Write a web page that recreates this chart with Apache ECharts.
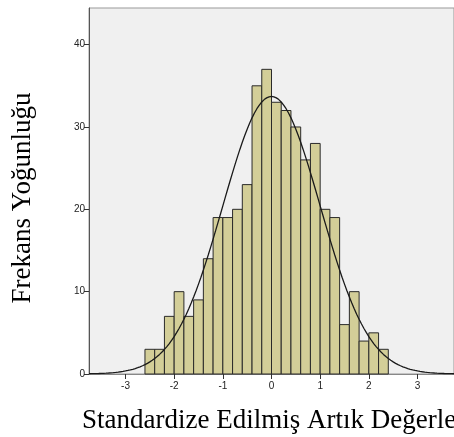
<!DOCTYPE html>
<html>
<head>
<meta charset="utf-8">
<script src="https://cdn.jsdelivr.net/npm/echarts@6/dist/echarts.min.js"></script>
<style>html,body{margin:0;padding:0;background:#fff;}#c{width:454px;height:437px;}</style>
</head>
<body>
<div id="c"></div>
<script>
// Histogram bins (left edges) and counts
const binLeft = [-2.6,-2.4,-2.2,-2.0,-1.8,-1.6,-1.4,-1.2,-1.0,-0.8,-0.6,-0.4,-0.2,0.0,0.2,0.4,0.6,0.8,1.0,1.2,1.4,1.6,1.8,2.0,2.2];
const counts  = [3,3,7,10,7,9,14,19,19,20,23,35,37,33,32,30,26,28,20,19,6,10,4,5,3];
const binWidth = 0.2;
// Fitted normal curve parameters
const fitMean = 0.0;
const fitSd = 0.999;
const xTicks = [-3,-2,-1,0,1,2,3];
const yTicks = [0,10,20,30,40];
const xTitle = 'Standardize Edilmiş Artık Değerleri';
const yTitle = 'Frekans Yoğunluğu';

const N = counts.reduce((a,b)=>a+b,0);
const xMin = -3.75, xMax = 3.75;
const curve = [];
for (let i = 0; i <= 150; i++) {
  const x = xMin + i * (xMax - xMin) / 150;
  const z = (x - fitMean) / fitSd;
  curve.push([x, N * binWidth / (fitSd * Math.sqrt(2*Math.PI)) * Math.exp(-0.5*z*z)]);
}
const barData = binLeft.map((l,i)=>[l, l+binWidth, counts[i]]);

const chart = echarts.init(document.getElementById('c'), null, {renderer:'canvas'});
chart.setOption({
  animation:false,
  grid:{left:89, top:8, right:-4, bottom:63, show:true, backgroundColor:'#f0f0f0', borderColor:'#999', borderWidth:1},
  xAxis:{type:'value', min:xMin, max:xMax,
    axisLine:{show:true, onZero:false, lineStyle:{color:'#888', width:1}},
    axisTick:{show:true, length:5, customValues:xTicks, lineStyle:{color:'#333'}},
    axisLabel:{customValues:xTicks, color:'#222', fontFamily:'Liberation Sans', fontSize:10, margin:7},
    splitLine:{show:false}},
  yAxis:{type:'value', min:0, max:44.45,
    axisLine:{show:true, onZero:false, lineStyle:{color:'#555', width:1}},
    axisTick:{show:true, length:5, customValues:yTicks, lineStyle:{color:'#333'}},
    axisLabel:{customValues:yTicks, color:'#222', fontFamily:'Liberation Sans', fontSize:10, margin:4},
    splitLine:{show:false}},
  graphic:[
    {type:'text', x:23, y:198, rotation:Math.PI/2,
      style:{text:yTitle, font:'27px "Liberation Serif"', fill:'#000', textAlign:'center', textVerticalAlign:'middle'}},
    {type:'text', x:82, y:421,
      style:{text:xTitle, font:'27px "Liberation Serif"', fill:'#000', textAlign:'left', textVerticalAlign:'middle'}}
  ],
  series:[
    {type:'custom', data:barData, encode:{x:[0,1], y:2},
      renderItem:function(params, api){
        const p0 = api.coord([api.value(0), 0]);
        const p1 = api.coord([api.value(1), api.value(2)]);
        return {type:'rect', shape:{x:p0[0], y:p1[1], width:p1[0]-p0[0], height:p0[1]-p1[1]},
          style:{fill:'#d3ce98', stroke:'#2a2a2a', lineWidth:1}};
      }, z:2},
    {type:'line', data:curve, showSymbol:false, smooth:false, lineStyle:{color:'#1a1a1a', width:1.3}, z:3}
  ]
});
</script>
</body>
</html>
